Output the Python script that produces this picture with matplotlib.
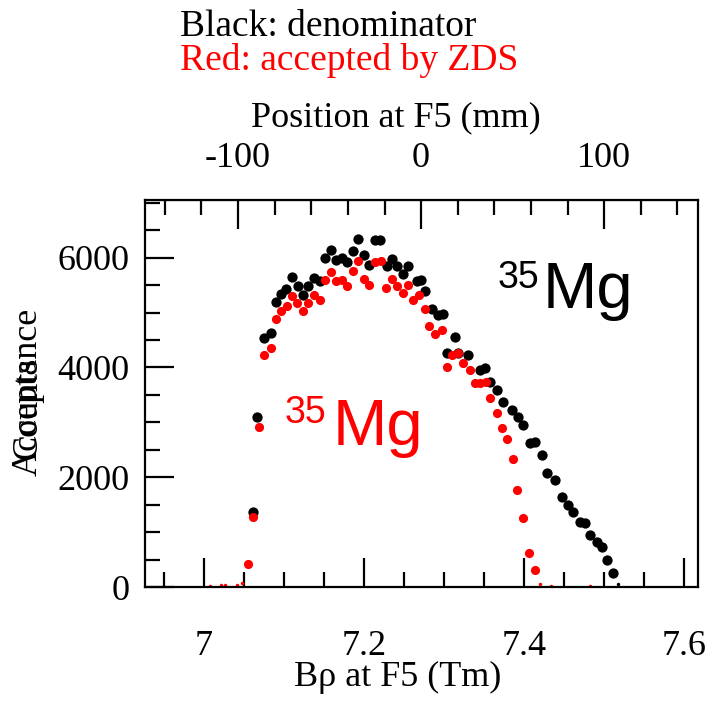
import numpy as np
import matplotlib.pyplot as plt
from matplotlib.ticker import MultipleLocator

serif = ['Liberation Serif', 'DejaVu Serif']
sans = ['Liberation Sans', 'DejaVu Sans']

# denominator (black)
bk_x = [7.0616, 7.0666, 7.075, 7.0834, 7.0896, 7.0959, 7.1021, 7.1104, 7.1171, 7.1241,
        7.1304, 7.1375, 7.145, 7.1513, 7.1584, 7.165, 7.1721, 7.1791, 7.1859, 7.1929,
        7.2, 7.2066, 7.2138, 7.22, 7.2284, 7.2346, 7.2409, 7.2484, 7.2554, 7.2659,
        7.2709, 7.2763, 7.2846, 7.2929, 7.2984, 7.3034, 7.3138, 7.3179, 7.3304, 7.345,
        7.3513, 7.3575, 7.3659, 7.3741, 7.3846, 7.3929, 7.3991, 7.4075, 7.4138, 7.4221,
        7.4284, 7.4388, 7.4471, 7.4554, 7.4616, 7.47, 7.4763, 7.4825, 7.4909, 7.4971,
        7.5034, 7.5109]
bk_y = [1373, 3105, 4534, 4625, 5183, 5336, 5427, 5646, 5475, 5323,
        5475, 5627, 5566, 5992, 6131, 5948, 5992, 5912, 6125, 6344,
        6052, 5870, 6326, 6326, 5852, 5974, 5839, 5706, 5852, 5566,
        5584, 5383, 5062, 4959, 4977, 4260, 4552, 4260, 4229, 3956,
        3987, 3743, 3591, 3378, 3227, 3105, 2953, 2620, 2649, 2406,
        2073, 1951, 1646, 1495, 1373, 1190, 1161, 948, 826, 735,
        492, 250]
bk_low_x = [7.5171]
bk_low_y = [60]

# accepted by ZDS (red)
rd_x = [7.0554, 7.0616, 7.0691, 7.0754, 7.0834, 7.0896, 7.0959, 7.1034, 7.1104, 7.1166,
        7.1241, 7.1304, 7.1375, 7.145, 7.1513, 7.1584, 7.165, 7.1721, 7.1791, 7.1859,
        7.1929, 7.2, 7.2066, 7.2138, 7.2209, 7.2275, 7.2346, 7.2409, 7.2484, 7.2554,
        7.2616, 7.2691, 7.2763, 7.2816, 7.2888, 7.2971, 7.3034, 7.3096, 7.3179, 7.3241,
        7.3325, 7.3388, 7.345, 7.3525, 7.3575, 7.3659, 7.3721, 7.3791, 7.3859, 7.3916,
        7.3991, 7.4066, 7.4138]
rd_y = [419, 1270, 2911, 4229, 4351, 4880, 5019, 5123, 5305, 5172,
        5019, 5172, 5323, 5219, 5584, 5730, 5566, 5597, 5475, 5748,
        5930, 5609, 5505, 5912, 5930, 5445, 5609, 5487, 5354, 5505,
        5219, 5323, 5062, 4758, 4612, 4685, 4016, 4229, 4260, 4078,
        3956, 3713, 3713, 3743, 3440, 3166, 2893, 2692, 2328, 1768,
        1252, 625, 310]
rd_low_x = [7.0075, 7.0209, 7.0263, 7.0416, 7.0471, 7.42, 7.4334, 7.4825]
rd_low_y = [20, 30, 30, 40, 70, 60, 20, 20]

x_ticks = [7.0, 7.2, 7.4, 7.6]
x_ticklabels = ['7', '7.2', '7.4', '7.6']
y_ticks = [0, 2000, 4000, 6000]
mm_ticks = [-100, 0, 100]

fig = plt.figure(figsize=(7.11, 7.04), dpi=100)
ax = fig.add_axes([0.204, 0.166, 0.778, 0.550])

ax.plot(bk_x, bk_y, 'o', color='black', ms=7.4, mew=0)
ax.plot(bk_low_x, bk_low_y, 'o', color='black', ms=2.5, mew=0)
ax.plot(rd_x, rd_y, 'o', color='red', ms=6.6, mew=0)
ax.plot(rd_low_x, rd_low_y, 'o', color='red', ms=2.5, mew=0)

ax.set_xlim(6.92625, 7.6175)
ax.set_ylim(0, 7050)

ax.set_xticks(x_ticks)
ax.set_xticklabels(x_ticklabels)
ax.set_yticks(y_ticks)
ax.xaxis.set_minor_locator(MultipleLocator(0.05))
ax.yaxis.set_minor_locator(MultipleLocator(500))
ax.tick_params(which='both', direction='in', width=1.6, top=False, right=False)
ax.tick_params(which='major', length=21)
ax.tick_params(which='minor', length=11)
ax.tick_params(axis='x', which='major', pad=31)
ax.tick_params(axis='y', which='major', pad=11)
for lab in ax.get_xticklabels() + ax.get_yticklabels():
    lab.set_family(serif)
    lab.set_fontsize(26)
for sp in ax.spines.values():
    sp.set_linewidth(1.6)


# position at F5 in mm
def bro_to_mm(b):
    return (b - 7.27125) * 437.16


def mm_to_bro(m):
    return m / 437.16 + 7.27125


sec = ax.secondary_xaxis('top', functions=(bro_to_mm, mm_to_bro))
sec.set_xticks(mm_ticks)
sec.set_xticklabels([str(v) for v in mm_ticks])
sec.xaxis.set_minor_locator(MultipleLocator(20))
sec.tick_params(which='both', direction='in', width=1.6)
sec.tick_params(which='major', length=21, pad=18)
sec.tick_params(which='minor', length=11)
for lab in sec.get_xticklabels():
    lab.set_family(serif)
    lab.set_fontsize(26)

fig.text(396 / 711, 1 - 118 / 704, 'Position at F5 (mm)', family=serif, fontsize=26,
         ha='center', va='center')
fig.text(398 / 711, 1 - 677 / 704, 'B\u03c1 at F5 (Tm)', family=serif, fontsize=26,
         ha='center', va='center')

# two y titles printed on top of each other, as in the original
fig.text(28 / 711, 1 - 392 / 704, 'Acceptance', family=serif, fontsize=26,
         rotation=90, ha='center', va='center')
fig.text(28 / 711, 1 - 408 / 704, 'Counts', family=serif, fontsize=26,
         rotation=90, ha='center', va='center')

fig.text(180 / 711, 1 - 36 / 704, 'Black: denominator', family=serif, fontsize=27,
         color='black', va='baseline')
fig.text(180 / 711, 1 - 70 / 704, 'Red: accepted by ZDS', family=serif, fontsize=27,
         color='red', va='baseline')

# isotope labels
ax.text(0.637, 0.773, '35', family=sans, fontsize=27, color='black',
        transform=ax.transAxes, va='baseline')
ax.text(0.718, 0.721, 'Mg', family=sans, fontsize=47, color='black',
        transform=ax.transAxes, va='baseline')
ax.text(0.253, 0.424, '35', family=sans, fontsize=27, color='red',
        transform=ax.transAxes, va='baseline')
ax.text(0.340, 0.367, 'Mg', family=sans, fontsize=47, color='red',
        transform=ax.transAxes, va='baseline')

fig.savefig('out.png', dpi=100)
